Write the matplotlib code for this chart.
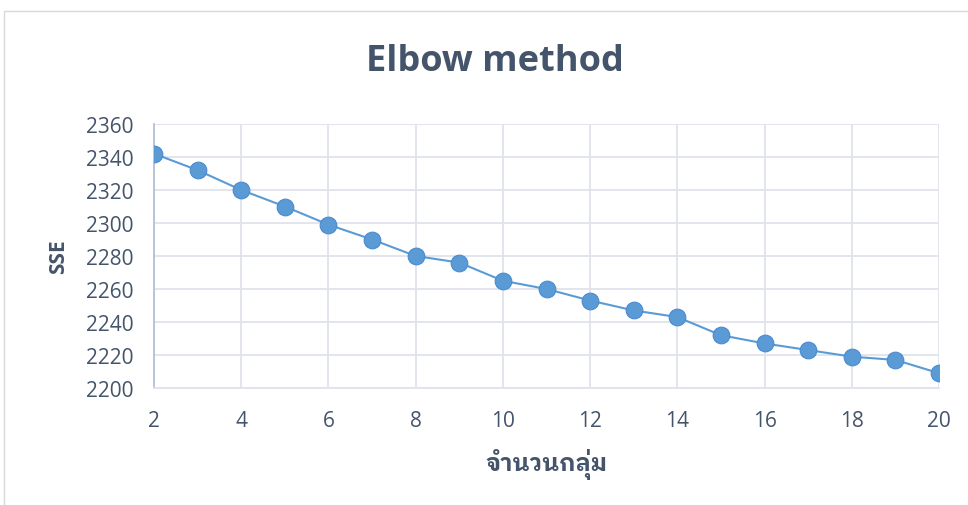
import matplotlib
matplotlib.use('Agg')
from matplotlib import pyplot as plt
from matplotlib.patches import Rectangle

# จำนวนกลุ่ม (k) และค่า SSE
clusters = list(range(2, 21))
sse = [2342, 2332, 2320, 2310, 2299, 2290, 2280, 2276, 2265, 2260,
       2253, 2247, 2243, 2232, 2227, 2223, 2219, 2217, 2209]

xticks = list(range(2, 21, 2))
yticks = list(range(2200, 2361, 20))

textColor = '#44546a'
lineColor = '#5b9bd5'
gridColor = '#dfe3ea'

plt.rcParams['font.family'] = ['Open Sans', 'DejaVu Sans']

fig = plt.figure(figsize=(9.68, 5.06), dpi=100)
ax = fig.add_axes([154 / 968, 1 - 389 / 506, (939 - 154) / 968, (389 - 125) / 506])

# рамка вокруг диаграммы
fig.patches.append(Rectangle((4 / 968, -0.1), 1.2, 1 - 12 / 506 + 0.1,
                             transform=fig.transFigure, fill=False,
                             edgecolor='#d9d9d9', linewidth=1))

ax.plot(clusters, sse, color=lineColor, linewidth=1.5, marker='o',
        markersize=12, markerfacecolor=lineColor, markeredgecolor='#4a8ad0',
        markeredgewidth=0.8, zorder=3)

ax.set_xlim(2, 20)
ax.set_ylim(2200, 2360)
ax.set_xticks(xticks)
ax.set_yticks(yticks)
ax.grid(True, color=gridColor, linewidth=1.3)
ax.set_axisbelow(True)

for side in ['top', 'right']:
    ax.spines[side].set_visible(False)
ax.spines['left'].set_color('#b4c0d4')
ax.spines['left'].set_linewidth(1.3)
ax.spines['bottom'].set_color(gridColor)
ax.spines['bottom'].set_linewidth(1.3)

ax.tick_params(axis='both', length=0, labelsize=15, labelcolor=textColor)
ax.tick_params(axis='y', pad=15)
ax.tick_params(axis='x', pad=16)

ax.set_ylabel('SSE', fontsize=15, fontweight='bold', color=textColor, labelpad=12)
ax.set_xlabel('จำนวนกลุ่ม', fontsize=17, fontweight='bold', color=textColor,
              family=['IBM Plex Sans Thai Looped', 'DejaVu Sans'], labelpad=12)

fig.text(495 / 968, 1 - 62 / 506, 'Elbow method', ha='center', va='center',
         fontsize=26, fontweight='bold', color=textColor)

fig.savefig('out.png')
